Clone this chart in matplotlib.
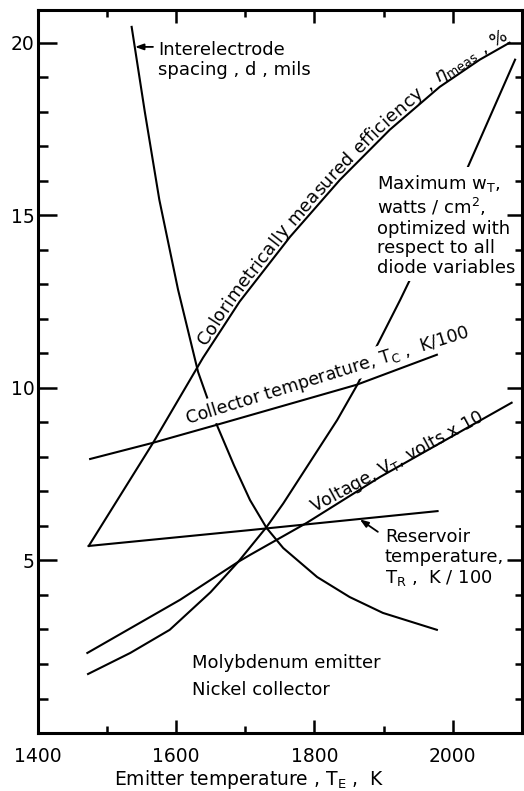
import numpy as np
import matplotlib
matplotlib.use('Agg')
import matplotlib.pyplot as plt
from matplotlib.ticker import MultipleLocator

# emitter temperature (K) -> value, one pair of lists per curve
spacing_T = [1536, 1555, 1576, 1603, 1632, 1659, 1684, 1707, 1731, 1755, 1804, 1851, 1899, 1977]
spacing_d = [20.46, 18.0, 15.45, 12.85, 10.46, 8.93, 7.75, 6.75, 5.94, 5.36, 4.52, 3.94, 3.48, 2.99]

eff_T = [1474, 1567, 1639, 1692, 1765, 1837, 1909, 1981, 2039, 2082]
eff = [5.42, 8.41, 10.87, 12.5, 14.38, 16.03, 17.48, 18.72, 19.51, 20.0]

collector_T = [1476, 1567, 1659, 1861, 1977]
collector = [7.94, 8.41, 8.93, 10.09, 10.96]

reservoir_T = [1474, 1707, 1978]
reservoir = [5.42, 5.88, 6.43]

voltage_T = [1472, 1606, 1690, 1707, 1789, 1895, 2085]
voltage = [2.32, 3.86, 4.96, 5.16, 6.09, 7.42, 9.57]

power_T = [1473, 1534, 1591, 1650, 1690, 1731, 1755, 1833, 1862, 1885, 1924, 1938, 2020, 2090]
power = [1.71, 2.32, 2.99, 4.08, 4.96, 5.97, 6.65, 9.07, 10.09, 11.01, 12.55, 13.13, 16.32, 19.51]

x_ticks = [1400, 1600, 1800, 2000]
y_ticks = [5, 10, 15, 20]

plt.rcParams['font.family'] = 'DejaVu Sans'
plt.rcParams['mathtext.fontset'] = 'dejavusans'

fig = plt.figure(figsize=(5.24, 7.91), dpi=100)
ax = fig.add_axes([0.0716, 0.0733, 0.9246, 0.9141])
ax.set_xlim(1400, 2100)
ax.set_ylim(0, 20.95)
ax.set_axisbelow(False)

lw = 1.5
ax.plot(spacing_T, spacing_d, color='k', lw=lw, zorder=2)
ax.plot(eff_T, eff, color='k', lw=lw, zorder=2)
ax.plot(collector_T, collector, color='k', lw=lw, zorder=2.4)
ax.plot(reservoir_T, reservoir, color='k', lw=lw, zorder=2)
ax.plot(voltage_T, voltage, color='k', lw=lw, zorder=2)
ax.plot(power_T, power, color='k', lw=lw, zorder=2)


def text_along(ax, xs, ys, tokens, x_start, offset, size, track=1.0):
    # lay tokens one by one along a polyline, rotated to its local direction
    r = ax.figure.canvas.get_renderer()
    pts = ax.transData.transform(np.column_stack([xs, ys]))
    # carry the path on past its last point so trailing glyphs don't pile up
    d = pts[-1] - pts[-2]
    pts = np.vstack([pts, pts[-1] + 60 * d / np.hypot(*d)])
    s = np.concatenate([[0], np.cumsum(np.hypot(*np.diff(pts, axis=0).T))])
    p0 = ax.transData.transform((x_start, np.interp(x_start, xs, ys)))
    pos = np.interp(p0[0], pts[:, 0], s)

    def width(t):
        tmp = ax.text(0, 0, t, fontsize=size)
        w = tmp.get_window_extent(r).width
        tmp.remove()
        return w

    wx = width('x')
    for tok in tokens:
        w = (width(tok + 'x') - wx) * track
        mid = pos + w / 2
        px = np.interp(mid, s, pts[:, 0])
        py = np.interp(mid, s, pts[:, 1])
        a = np.array([np.interp(mid - 12, s, pts[:, 0]), np.interp(mid - 12, s, pts[:, 1])])
        b = np.array([np.interp(mid + 12, s, pts[:, 0]), np.interp(mid + 12, s, pts[:, 1])])
        ang = np.arctan2(b[1] - a[1], b[0] - a[0])
        nx, ny = -np.sin(ang), np.cos(ang)
        x, y = ax.transData.inverted().transform((px + nx * offset, py + ny * offset))
        ax.text(x, y, tok, fontsize=size, rotation=np.degrees(ang),
                rotation_mode='anchor', ha='center', va='baseline')
        pos += w


fs = 13
eff_label = list('Colorimetrically measured efficiency , ') + [r'$\eta_{\rm meas}$', ' ', ',', ' ', '%']
text_along(ax, eff_T, eff, eff_label, 1648, 4, fs, track=1.02)

white = dict(facecolor='white', edgecolor='none', pad=1.5)
ax.text(1616, 8.96, r'Collector temperature, T$_{\rm C}$ ,  K/100', fontsize=12.5,
        rotation=17.2, rotation_mode='anchor', ha='left', va='baseline',
        bbox=white, zorder=2.2)
ax.text(1799, 6.38, r'Voltage, V$_{\rm T}$, volts x 10', fontsize=12.5,
        rotation=28.5, rotation_mode='anchor', ha='left', va='baseline')

# multi-line labels: y is the baseline of the last line
ax.text(1574, 19.07, 'Interelectrode\nspacing , d , mils', fontsize=fs,
        ha='left', va='baseline', linespacing=1.12)
ax.annotate('', xy=(1540.8, 19.88), xytext=(1566.8, 19.88),
            arrowprops=dict(arrowstyle='-|>,head_length=0.5,head_width=0.18',
                            color='k', lw=1.3, shrinkA=0, shrinkB=0))

ax.text(1890, 13.33, 'Maximum w$_{\\rm T}$,\nwatts / cm$^2$,\noptimized with\n'
        'respect to all\ndiode variables', fontsize=fs, ha='left', va='baseline',
        linespacing=1.12, bbox=dict(facecolor='white', edgecolor='none', pad=3),
        zorder=2.2)

ax.text(1902, 4.35, 'Reservoir\ntemperature,\nT$_{\\rm R}$ ,  K / 100', fontsize=fs,
        ha='left', va='baseline', linespacing=1.12)
ax.annotate('', xy=(1865.7, 6.19), xytext=(1891.7, 5.83),
            arrowprops=dict(arrowstyle='-|>,head_length=0.5,head_width=0.18',
                            color='k', lw=1.3, shrinkA=0, shrinkB=0))

ax.text(1623, 1.88, 'Molybdenum emitter', fontsize=fs, ha='left', va='baseline')
ax.text(1623, 1.10, 'Nickel collector', fontsize=fs, ha='left', va='baseline')

fig.text(249 / 524, 1 - 785 / 791, r'Emitter temperature , T$_{\rm E}$ ,  K',
         fontsize=13.5, ha='center', va='baseline')

# ticks: inward on all four sides
ax.set_xticks(x_ticks)
ax.xaxis.set_minor_locator(MultipleLocator(100))
ax.set_yticks(y_ticks)
ax.yaxis.set_minor_locator(MultipleLocator(1))
ax.tick_params(axis='x', which='both', direction='in', top=True, bottom=True,
               labelsize=13.5, pad=10, width=1.8)
ax.tick_params(axis='x', which='major', length=9.5)
ax.tick_params(axis='x', which='minor', length=5)
ax.tick_params(axis='y', which='both', direction='in', left=True, right=False,
               labelsize=13.5, pad=2, width=1.8)
ax.tick_params(axis='y', which='major', length=14)
ax.tick_params(axis='y', which='minor', length=7)
for sp in ax.spines.values():
    sp.set_linewidth(2.2)

twin = ax.twinx()
twin.set_ylim(ax.get_ylim())
twin.yaxis.set_major_locator(MultipleLocator(5))
twin.yaxis.set_minor_locator(MultipleLocator(1))
twin.tick_params(axis='y', which='both', direction='in', right=True, labelright=False, width=1.8)
twin.tick_params(axis='y', which='major', length=10.5)
twin.tick_params(axis='y', which='minor', length=5)
for sp in twin.spines.values():
    sp.set_visible(False)

fig.savefig('out.png', dpi=100, facecolor='white')
